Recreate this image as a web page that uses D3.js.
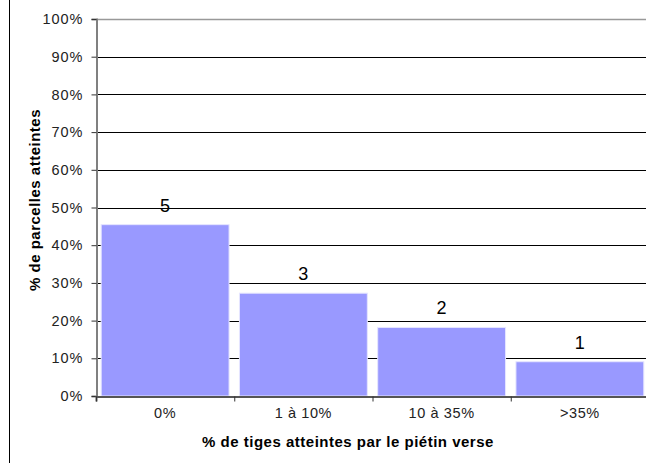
<!DOCTYPE html>
<meta charset="utf-8">
<style>
body { margin: 0; background: #fff; }
text { font-family: "Liberation Sans", Arial, sans-serif; }
</style>
<body>
<script src="https://cdn.jsdelivr.net/npm/d3@7/dist/d3.min.js"></script>
<script>
// données
var categories = ["0%", "1 à 10%", "10 à 35%", ">35%"];
var counts = [5, 3, 2, 1];
var percents = [45.45, 27.27, 18.18, 9.09];
var yTicks = [0, 10, 20, 30, 40, 50, 60, 70, 80, 90, 100];

var W = 646, H = 463;
var pLeft = 96, pRight = 649, pTop = 19, pBottom = 396;

var svg = d3.select("body").append("svg")
    .attr("width", W)
    .attr("height", H);

// cadre
svg.append("line")
    .attr("x1", 9.5).attr("x2", 9.5)
    .attr("y1", 0).attr("y2", H)
    .attr("stroke", "#000");

var x = d3.scaleBand().domain(categories).range([pLeft, pRight]).paddingInner(0.075).paddingOuter(0.0375);
var y = d3.scaleLinear().domain([0, 100]).range([pBottom, pTop]);

// grille
svg.selectAll(".grid")
    .data(yTicks.filter(function(d) { return d > 0; }))
  .enter().append("line")
    .attr("x1", pLeft).attr("x2", W)
    .attr("y1", function(d) { return Math.round(y(d)) + 0.5; })
    .attr("y2", function(d) { return Math.round(y(d)) + 0.5; })
    .attr("stroke", function(d) { return d == 100 ? "#999" : "#000"; })
    .attr("stroke-width", function(d) { return d == 100 ? 1.5 : 1; });

// barres
svg.selectAll(".bar")
    .data(categories)
  .enter().append("rect")
    .attr("x", function(d) { return x(d); })
    .attr("width", x.bandwidth())
    .attr("y", function(d, i) { return y(percents[i]); })
    .attr("height", function(d, i) { return pBottom - y(percents[i]); })
    .attr("fill", "#9999ff")
    .attr("stroke", "#e6e6ff")
    .attr("stroke-width", 1);

// étiquettes
svg.selectAll(".lab")
    .data(categories)
  .enter().append("text")
    .attr("x", function(d) { return x(d) + x.bandwidth() / 2; })
    .attr("y", function(d, i) { return y(percents[i]) - 13; })
    .attr("text-anchor", "middle")
    .style("font-size", "18px")
    .attr("fill", "#000")
    .text(function(d, i) { return counts[i]; });

// axe y
var yAxis = d3.axisLeft(y).tickValues(yTicks).tickSize(5).tickPadding(8)
    .tickFormat(function(d) { return d + "%"; });
var gy = svg.append("g")
    .attr("transform", "translate(" + (pLeft + 0.5) + ",0)")
    .call(yAxis);
gy.select(".domain").attr("stroke", "#808080").attr("stroke-width", 2);
gy.selectAll(".tick line").attr("stroke", "#333");
gy.selectAll("text").style("font-size", "14.5px").style("letter-spacing", "1px").attr("fill", "#222");

// axe x
var xAxis = d3.axisBottom(d3.scaleLinear().domain([0, 4]).range([pLeft, pLeft + 4 * x.step()]))
    .tickValues([0, 1, 2, 3]).tickSize(5).tickFormat("");
var gx = svg.append("g")
    .attr("transform", "translate(0," + (pBottom + 0.5) + ")")
    .call(xAxis);
gx.select(".domain").attr("stroke", "#555").attr("stroke-width", 2);
gx.selectAll(".tick line").attr("stroke", "#333");

svg.selectAll(".xlab")
    .data(categories)
  .enter().append("text")
    .attr("x", function(d) { return x(d) + x.bandwidth() / 2; })
    .attr("y", 418)
    .attr("text-anchor", "middle")
    .style("font-size", "14.5px")
    .style("letter-spacing", "0.6px")
    .attr("fill", "#222")
    .text(function(d) { return d; });

// titres
svg.append("text")
    .attr("x", 348).attr("y", 447)
    .attr("text-anchor", "middle")
    .style("font-size", "15px").style("font-weight", "bold")
    .style("letter-spacing", "0.5px")
    .text("% de tiges atteintes par le piétin verse");

svg.append("text")
    .attr("transform", "translate(40," + 200 + ") rotate(-90)")
    .attr("text-anchor", "middle")
    .style("font-size", "15px").style("font-weight", "bold")
    .style("letter-spacing", "0.5px")
    .text("% de parcelles atteintes");
</script>
</body>
</html>
